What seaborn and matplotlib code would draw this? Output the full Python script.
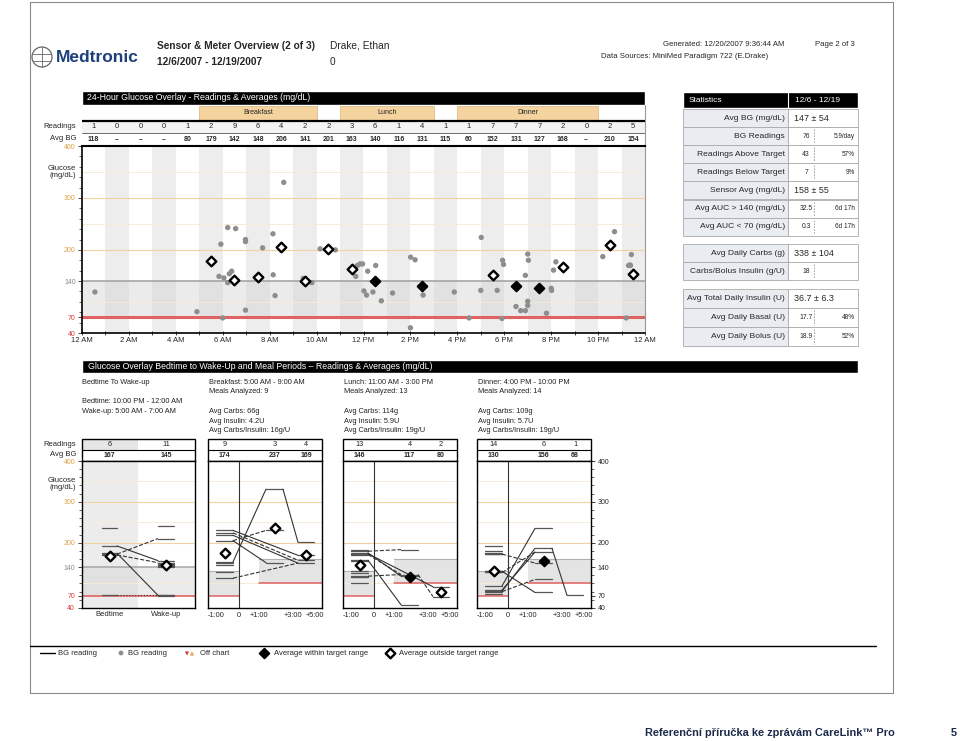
import matplotlib
matplotlib.use("Agg")
import matplotlib.pyplot as plt
from matplotlib.patches import Rectangle, Circle
from matplotlib.ticker import MultipleLocator
import seaborn as sns
import pandas as pd

sns.set_style("white")
plt.rcParams['font.family'] = ['Liberation Sans', 'DejaVu Sans']
plt.rcParams['font.size'] = 5.5

W, H = 960, 741

# ---- 24-hour overlay data
hour_readings = [1, 0, 0, 0, 1, 2, 9, 6, 4, 2, 2, 3, 6, 1, 4, 1, 1, 7, 7, 7, 2, 0, 2, 5]
hour_avg_bg = [118, None, None, None, 80, 179, 142, 148, 206, 141, 201, 163,
               140, 116, 131, 115, 60, 152, 131, 127, 168, None, 210, 154]
hour_labels = ["12 AM", "2 AM", "4 AM", "6 AM", "8 AM", "10 AM", "12 PM",
               "2 PM", "4 PM", "6 PM", "8 PM", "10 PM", "12 AM"]
meal_names = ["Breakfast", "Lunch", "Dinner"]
meal_start = [5, 11, 16]
meal_end = [10, 15, 22]

bg_hour = [0.55, 4.9, 5.92, 5.84, 6.05, 6.0, 6.21, 6.55, 6.28, 6.38, 6.21, 6.97, 6.97, 6.97,
           7.7, 8.6, 8.14, 8.15, 8.23, 9.43, 9.8, 10.15, 10.8, 11.67, 11.74, 11.85,
           11.96, 12.18, 12.02, 12.13, 12.4, 12.52, 12.76, 13.24, 14.01, 14.2, 14.0, 14.54,
           15.87, 16.5, 17.02, 17.0, 17.7, 17.9, 17.93, 17.97, 18.5, 18.7, 18.9, 18.9,
           19.0, 19.03, 19.0, 19.0, 19.8, 20.0, 20.02, 20.1, 20.2, 22.2, 22.7,
           23.2, 23.3, 23.36, 23.42, 23.38]
bg_value = [119, 81, 211, 149, 146, 69, 243, 241, 154, 159, 137, 220, 216, 84,
            204, 330, 231, 152, 112, 145, 137, 202, 200, 149, 170, 173,
            173, 159, 121, 113, 119, 170, 102, 117, 186, 181, 50, 113,
            119, 69, 224, 122, 122, 68, 180, 172, 91, 83, 83, 151,
            192, 180, 101, 93, 78, 126, 122, 161, 177, 187, 235,
            69, 170, 171, 191, 170]

# ---- statistics tables
stats_labels = ["Avg BG (mg/dL)", "BG Readings", "Readings Above Target", "Readings Below Target",
                "Sensor Avg (mg/dL)", "Avg AUC > 140 (mg/dL)", "Avg AUC < 70 (mg/dL)"]
stats_val = ["147 ± 54", "76", "43", "7", "158 ± 55", "32.5", "0.3"]
stats_extra = ["", "5.9/day", "57%", "9%", "", "6d 17h", "6d 17h"]
carb_labels = ["Avg Daily Carbs (g)", "Carbs/Bolus Insulin (g/U)"]
carb_val = ["338 ± 104", "18"]
carb_extra = ["", ""]
insulin_labels = ["Avg Total Daily Insulin (U)", "Avg Daily Basal (U)", "Avg Daily Bolus (U)"]
insulin_val = ["36.7 ± 6.3", "17.7", "18.9"]
insulin_extra = ["", "48%", "52%"]

# ---- bedtime to wake-up
bed_info = ["Bedtime To Wake-up", "", "Bedtime: 10:00 PM - 12:00 AM", "Wake-up: 5:00 AM - 7:00 AM"]
bed_readings = [235, 192, 174, 172, 170, 71]
wake_readings = [242, 210, 156, 151, 148, 145, 143, 140, 71, 71, 70]
bed_links = [(192, 156, "-"), (172, 210, "--"), (174, 71, "-"), (71, 71, ":"), (170, 151, "--")]
bed_counts = [6, 11]
bed_avgs = [167, 145]
bed_in_range = [False, False]

# ---- meal periods: readings per period (pre, +1-3h, +3-5h)
breakfast_info = ["Breakfast: 5:00 AM - 9:00 AM", "Meals Analyzed: 9", "",
                  "Avg Carbs: 66g", "Avg Insulin: 4.2U", "Avg Carbs/Insulin: 16g/U"]
breakfast_readings = [[230, 224, 218, 205, 153, 149, 145, 129, 113], [331, 230, 151], [201, 169, 157, 150]]
breakfast_links = [((153, 331, 201), "-"), ((205, 230, None), "--"), ((230, None, 169), "-"),
                   ((224, None, 157), "--"), ((218, None, 150), "-"), ((205, 151, None), "-"),
                   ((113, None, 150), "--")]
breakfast_counts = [9, 3, 4]
breakfast_avgs = [174, 237, 169]
breakfast_in_range = [False, False, False]

lunch_info = ["Lunch: 11:00 AM - 3:00 PM", "Meals Analyzed: 13", "",
              "Avg Carbs: 114g", "Avg Insulin: 5.9U", "Avg Carbs/Insulin: 19g/U"]
lunch_readings = [[183, 179, 175, 173, 171, 157, 155, 130, 118, 116, 115, 102, 125], [183, 122, 118, 48], [92, 68]]
lunch_links = [((179, 183, None), "--"), ((175, 118, None), "-"), ((173, None, 92), "-"),
               ((157, 48, None), "-"), ((118, 122, 68), "--"), ((171, 122, None), "--")]
lunch_counts = [13, 4, 2]
lunch_avgs = [146, 117, 80]
lunch_in_range = [False, True, False]

dinner_info = ["Dinner: 4:00 PM - 10:00 PM", "Meals Analyzed: 14", "",
               "Avg Carbs: 109g", "Avg Insulin: 5.7U", "Avg Carbs/Insulin: 19g/U"]
dinner_readings = [[193, 179, 174, 172, 172, 131, 130, 128, 127, 94, 84, 81, 80, 75],
                   [235, 186, 177, 150, 110, 78], [71]]
dinner_links = [((94, 235, None), "-"), ((81, 186, 71), "-"), ((84, 177, None), "-"),
                ((172, 150, None), "--"), ((130, 78, None), "-"), ((80, 110, None), "--"),
                ((127, 177, None), "--")]
dinner_counts = [14, 6, 1]
dinner_avgs = [130, 156, 68]
dinner_in_range = [False, True, False]

meal_ticks = ["-1:00", "0", "+1:00", "+3:00", "+5:00"]

ORANGE = '#e0a24a'
RED = '#d83a3a'
GREY_TXT = '#888888'


def tick_color(v):
    if v >= 200:
        return ORANGE
    if v == 140:
        return GREY_TXT
    return RED


fig = plt.figure(figsize=(W / 100, H / 100), dpi=100)
page = fig.add_axes([0, 0, 1, 1])
page.set_xlim(0, W)
page.set_ylim(H, 0)
page.axis('off')


def px_axes(x0, y0, x1, y1):
    return fig.add_axes([x0 / W, 1 - y1 / H, (x1 - x0) / W, (y1 - y0) / H])


def txt(x, y, s, **kw):
    kw.setdefault('va', 'center')
    page.text(x, y, s, **kw)


# page frame + header
page.add_patch(Rectangle((30, 2), 863, 691, fill=False, ec='#8a8a8a', lw=0.8))
page.add_patch(Circle((42, 57), 10, fill=False, ec='#666666', lw=0.9))
page.plot([42, 42], [47, 67], color='#666666', lw=0.6)
page.plot([33, 51], [54, 54], color='#666666', lw=0.6)
page.plot([33, 51], [61, 61], color='#666666', lw=0.6)
txt(56, 57.5, "Medtronic", fontsize=12.5, fontweight='bold', color='#1d3f7c')
txt(157, 46, "Sensor & Meter Overview (2 of 3)", fontsize=7.3, fontweight='bold')
txt(157, 62, "12/6/2007 - 12/19/2007", fontsize=7.3, fontweight='bold')
txt(330, 46, "Drake, Ethan", fontsize=7.3)
txt(330, 62, "0", fontsize=7.3)
txt(663, 44, "Generated: 12/20/2007 9:36:44 AM", fontsize=5.6)
txt(815, 44, "Page 2 of 3", fontsize=5.6)
txt(601, 57, "Data Sources: MiniMed Paradigm 722 (E.Drake)", fontsize=5.6)

# ---- 24-hour overlay
page.add_patch(Rectangle((82, 91), 563, 14, fc='black'))
txt(87, 98, "24-Hour Glucose Overlay - Readings & Averages (mg/dL)", color='white', fontsize=6.3)

hdr = px_axes(82, 105, 645, 146)
hdr.set_xlim(0, 24)
hdr.set_ylim(41, 0)
hdr.axis('off')
for name, s, e in zip(meal_names, meal_start, meal_end):
    hdr.add_patch(Rectangle((s, 1), e - s, 14, fc='#f4d39e', ec='#d8b27c', lw=0.5))
    hdr.text((s + e) / 2, 8, name, ha='center', va='center', fontsize=5)
hdr.add_patch(Rectangle((0, 16), 24, 11.5, fc='#f3f3f3', ec='none'))
hdr.axhline(15.6, color='black', lw=1.6)
hdr.axhline(27.7, color='#555555', lw=0.6)
hdr.plot([24, 24], [0, 41], color='#999999', lw=0.8, clip_on=False)
for h, n in enumerate(hour_readings):
    hdr.text(h + 0.5, 21.8, str(n), ha='center', va='center', fontsize=5.5)
for h, v in enumerate(hour_avg_bg):
    hdr.text(h + 0.5, 34.3, "--" if v is None else str(v), ha='center', va='center',
             fontsize=5, fontweight='bold')
txt(76, 126, "Readings", ha='right')
txt(76, 139, "Avg BG", ha='right')
txt(76, 172, "Glucose\n(mg/dL)", ha='right', linespacing=1.0)

ax = px_axes(82, 146, 645, 333)
ax.set_xlim(0, 24)
ax.set_ylim(40, 400)
for h in range(1, 24, 2):
    ax.axvspan(h, h + 1, color='#ededed', lw=0, zorder=0)
ax.axhspan(70, 140, color='#d4d4d4', alpha=0.45, lw=0, zorder=0.5)
for g in [100, 250, 350]:
    ax.axhline(g, color='#f5ebdc', lw=0.7, zorder=1)
for g in [200, 300]:
    ax.axhline(g, color='#f3d2a2', lw=0.8, zorder=1)
ax.axhline(140, color='#a5a5a5', lw=1.2, zorder=1)
ax.axhline(70, color='#e06262', lw=2.2, zorder=1)

pts = pd.DataFrame({'hour': bg_hour, 'bg': bg_value})
sns.scatterplot(data=pts, x='hour', y='bg', ax=ax, color='#8e8e8e', s=15,
                edgecolor='none', zorder=3, legend=False)
avg_df = pd.DataFrame({'hour': [h + 0.5 for h in range(24)], 'bg': hour_avg_bg, 'n': hour_readings})
avg_df = avg_df[avg_df['n'] >= 2].copy()
avg_df['inside'] = (avg_df['bg'] >= 70) & (avg_df['bg'] <= 140)
sns.scatterplot(data=avg_df[avg_df['inside']], x='hour', y='bg', ax=ax, marker='D', s=24,
                color='black', edgecolor='black', linewidth=1.5, zorder=4, legend=False)
sns.scatterplot(data=avg_df[~avg_df['inside']], x='hour', y='bg', ax=ax, marker='D', s=24,
                color='white', edgecolor='black', linewidth=1.7, zorder=4, legend=False)
ax.set_xlabel('')
ax.set_ylabel('')
ax.set_yticks([40, 70, 140, 200, 300, 400])
ax.set_yticklabels(['40', '70', '140', '200', '300', '400'])
for lab, v in zip(ax.get_yticklabels(), [40, 70, 140, 200, 300, 400]):
    lab.set_color(tick_color(v))
ax.yaxis.set_minor_locator(MultipleLocator(20))
ax.set_xticks(range(0, 25, 2))
ax.set_xticklabels(hour_labels)
ax.xaxis.set_minor_locator(MultipleLocator(1))
ax.tick_params(axis='y', which='major', left=True, length=3, width=0.6, pad=1.5, labelsize=5)
ax.tick_params(axis='y', which='minor', left=True, length=2, width=0.5)
ax.tick_params(axis='x', which='both', bottom=True, length=2.5, width=0.6, direction='inout',
               pad=1.5, labelsize=5.5)
for side in ['left', 'bottom']:
    ax.spines[side].set_color('black')
    ax.spines[side].set_linewidth(1.2)
ax.spines['top'].set_color('black')
ax.spines['top'].set_linewidth(1.5)
ax.spines['right'].set_color('#999999')
ax.spines['right'].set_linewidth(0.8)


# ---- statistics tables
def stat_table(y0, row_h, labels, vals, extras):
    n = len(labels)
    for i in range(n):
        y = y0 + i * row_h
        page.add_patch(Rectangle((683, y), 105, row_h, fc='#e9edf1', ec='#a9a9a9', lw=0.6))
        page.add_patch(Rectangle((788, y), 70, row_h, fc='white', ec='#a9a9a9', lw=0.6))
        txt(785, y + row_h / 2, labels[i], ha='right', fontsize=6.1)
        if extras[i] == "" and "±" in vals[i]:
            txt(794, y + row_h / 2, vals[i], ha='left', fontsize=6.4)
        else:
            txt(806, y + row_h / 2, vals[i], ha='center', fontsize=4.9)
            page.plot([814, 814], [y + 2, y + row_h - 2], color='#999999', lw=0.6, ls=(0, (2, 1.5)))
            txt(855, y + row_h / 2, extras[i], ha='right', fontsize=4.7)


page.add_patch(Rectangle((683, 92), 175, 16, fc='black'))
page.plot([788, 788], [92, 108], color='white', lw=0.8)
txt(689, 100, "Statistics", color='white', fontsize=6)
txt(795, 100, "12/6 - 12/19", color='white', fontsize=6)
stat_table(109, 18.1, stats_labels, stats_val, stats_extra)
stat_table(244, 18.2, carb_labels, carb_val, carb_extra)
stat_table(289, 19, insulin_labels, insulin_val, insulin_extra)

# ---- bottom: bedtime & meal periods
page.add_patch(Rectangle((82, 360), 776, 13, fc='black'))
txt(88, 366.5, "Glucose Overlay Bedtime to Wake-Up and Meal Periods – Readings & Averages (mg/dL)",
    color='white', fontsize=6.3)

PANEL_TOP, PANEL_BOTTOM = 461, 608
SEG = [(8, 25), (58, 75), (90, 106)]
BED_SEG = [(20, 35), (76, 92)]


def info_block(x, lines):
    for i, s in enumerate(lines):
        if s:
            txt(x, 382 + i * 9.8, s, fontsize=5.3, color='#222222')


def panel_header(x0, x1, xlim, centers, counts, avgs, shade=None):
    hax = px_axes(x0, 439, x1, PANEL_TOP)
    hax.set_xlim(0, xlim)
    hax.set_ylim(22, 0)
    hax.axis('off')
    if shade is not None:
        hax.add_patch(Rectangle((0, 0), shade, 11, fc='#e6e6e6', ec='none'))
    hax.add_patch(Rectangle((0, 0), xlim, 22, fill=False, ec='black', lw=1.0, clip_on=False))
    hax.axhline(11, color='black', lw=0.8)
    for c, n, a in zip(centers, counts, avgs):
        hax.text(c, 5.6, str(n), ha='center', va='center', fontsize=5.3)
        hax.text(c, 16.6, str(a), ha='center', va='center', fontsize=5, fontweight='bold')


def glucose_axes(x0, x1, xlim):
    pax = px_axes(x0, PANEL_TOP, x1, PANEL_BOTTOM)
    pax.set_xlim(0, xlim)
    pax.set_ylim(40, 400)
    for g in [100, 250, 350]:
        pax.axhline(g, color='#f5ebdc', lw=0.7, zorder=1)
    for g in [200, 300]:
        pax.axhline(g, color='#f3d2a2', lw=0.8, zorder=1)
    for s in pax.spines.values():
        s.set_color('black')
        s.set_linewidth(1.0)
    pax.set_yticks([])
    return pax


def set_glucose_ticks(pax, right=False):
    vals = [40, 70, 140, 200, 300, 400]
    pax.set_yticks(vals)
    pax.set_yticklabels([str(v) for v in vals])
    for lab, v in zip(pax.get_yticklabels(), vals):
        lab.set_color(tick_color(v))
    pax.yaxis.set_minor_locator(MultipleLocator(20))
    if right:
        pax.yaxis.tick_right()
        pax.tick_params(axis='y', which='both', right=True, left=False)
    else:
        pax.tick_params(axis='y', which='both', left=True)
    pax.tick_params(axis='y', which='major', length=3, width=0.6, pad=2, labelsize=5)
    pax.tick_params(axis='y', which='minor', length=2, width=0.5)


def draw_avgs(pax, centers, counts, avgs, inside):
    df = pd.DataFrame({'x': centers, 'bg': avgs, 'n': counts, 'inside': inside})
    df = df[df['n'] >= 2]
    sns.scatterplot(data=df[df['inside']], x='x', y='bg', ax=pax, marker='D', s=24,
                    color='black', edgecolor='black', linewidth=1.5, zorder=5, legend=False)
    sns.scatterplot(data=df[~df['inside']], x='x', y='bg', ax=pax, marker='D', s=24,
                    color='white', edgecolor='black', linewidth=1.7, zorder=5, legend=False)
    pax.set_xlabel('')
    pax.set_ylabel('')


# bedtime panel
info_block(82, bed_info)
bed_centers = [(a + b) / 2 for a, b in BED_SEG]
panel_header(82, 195, 113, bed_centers, bed_counts, bed_avgs, shade=56)
bax = glucose_axes(82, 195, 113)
bax.axvspan(0, 56, color='#ececec', lw=0, zorder=0)
bax.axhspan(70, 140, color='#d4d4d4', alpha=0.45, lw=0, zorder=0.5)
bax.axhline(140, color='#a5a5a5', lw=1.1, zorder=1)
bax.axhline(70, color='#e06262', lw=1.2, zorder=1)
for p, vals in enumerate([bed_readings, wake_readings]):
    for v in vals:
        bax.plot(BED_SEG[p], [v, v], color='#555555', lw=0.9, zorder=3)
for a, b, style in bed_links:
    bax.plot([BED_SEG[0][1], BED_SEG[1][0]], [a, b], ls=style, color='#333333', lw=0.8, zorder=3)
draw_avgs(bax, bed_centers, bed_counts, bed_avgs, bed_in_range)
bax.set_xticks(bed_centers)
bax.set_xticklabels(["Bedtime", "Wake-up"])
bax.tick_params(axis='x', length=0, pad=2, labelsize=5.5)
set_glucose_ticks(bax)
txt(76, 444, "Readings", ha='right')
txt(76, 455, "Avg BG", ha='right')
txt(76, 484, "Glucose\n(mg/dL)", ha='right', linespacing=1.0)

meals = [
    (208, breakfast_info, breakfast_readings, breakfast_links, breakfast_counts, breakfast_avgs, breakfast_in_range),
    (343, lunch_info, lunch_readings, lunch_links, lunch_counts, lunch_avgs, lunch_in_range),
    (477, dinner_info, dinner_readings, dinner_links, dinner_counts, dinner_avgs, dinner_in_range),
]
centers = [(a + b) / 2 for a, b in SEG]
for k, (x0, info, readings, links, counts, avgs, inside) in enumerate(meals):
    info_block(x0 + 1, info)
    panel_header(x0, x0 + 114, 114, centers, counts, avgs)
    pax = glucose_axes(x0, x0 + 114, 114)
    # pre-meal target and post-meal target
    pax.fill_between([0, 31], 70, 130, color='#e4e4e4', lw=0, zorder=0.5)
    pax.plot([0, 31], [130, 130], color='#b0b0b0', lw=0.8, zorder=1)
    pax.plot([0, 31], [70, 70], color='#e06262', lw=1.1, zorder=1)
    pax.fill_between([51, 114], 100, 160, color='#e4e4e4', lw=0, zorder=0.5)
    pax.plot([51, 114], [160, 160], color='#b0b0b0', lw=0.8, zorder=1)
    pax.plot([51, 114], [100, 100], color='#e06262', lw=1.1, zorder=1)
    pax.axvline(31, color='#333333', lw=0.8, zorder=2)
    for p, vals in enumerate(readings):
        for v in vals:
            pax.plot(SEG[p], [v, v], color='#555555', lw=0.9, zorder=3)
    for seq, style in links:
        known = [(p, v) for p, v in enumerate(seq) if v is not None]
        for (p1, v1), (p2, v2) in zip(known, known[1:]):
            pax.plot([SEG[p1][1], SEG[p2][0]], [v1, v2], ls=style, color='#333333', lw=0.8, zorder=3)
    draw_avgs(pax, centers, counts, avgs, inside)
    pax.set_xticks([8, 31, 51, 85, 107])
    pax.set_xticklabels(meal_ticks)
    pax.tick_params(axis='x', length=0, pad=3, labelsize=5.3)
    if k == 2:
        set_glucose_ticks(pax, right=True)

# ---- legend
page.plot([30, 876], [646, 646], color='black', lw=1.0)
page.plot([40, 55], [653, 653], color='black', lw=1.0)
txt(58, 653.5, "BG reading")
page.scatter([121], [653], s=12, color='#8e8e8e', edgecolor='none')
txt(128, 653.5, "BG reading")
page.scatter([187], [653.5], s=9, marker='v', color='#d83a3a', edgecolor='none')
page.scatter([192], [653.5], s=9, marker='^', color='#e0a24a', edgecolor='none')
txt(200, 653.5, "Off chart")
page.scatter([264], [653], s=24, marker='D', color='black', edgecolor='black', linewidth=1.4)
txt(274, 653.5, "Average within target range")
page.scatter([390], [653], s=24, marker='D', color='white', edgecolor='black', linewidth=1.7)
txt(399, 653.5, "Average outside target range")

# ---- footer
txt(645, 733, "Referenční příručka ke zprávám CareLink™ Pro", fontsize=7.9, fontweight='bold', color='#1d2b4a')
txt(951, 733, "5", fontsize=7.9, fontweight='bold', color='#1d2b4a')

fig.savefig("out.png", dpi=100)
